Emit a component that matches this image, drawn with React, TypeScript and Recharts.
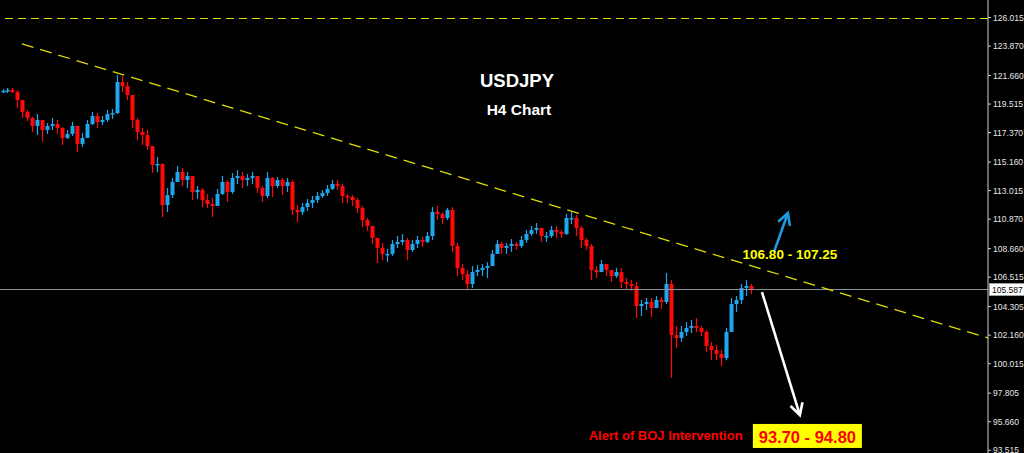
import React from "react";
import { ComposedChart, Bar, XAxis, YAxis, ReferenceLine, ReferenceDot } from "recharts";

// ---- data (USDJPY H4) ----
const firstOpen = 120.45;
const highs = [
  120.65, 120.72, 120.72, 120.57, 119.67, 119.07, 118.54, 118.77, 118.32, 118.09,
  118.47, 118.32, 117.79, 117.57, 118.17, 117.87, 117.34, 118.32, 118.92, 118.84,
  118.62, 119.07, 119.14, 121.70, 121.62, 121.17, 120.20, 118.47, 117.72, 117.57,
  116.36, 115.54, 115.09, 113.21, 113.96, 114.86, 114.71, 114.41, 114.11, 113.36,
  113.21, 112.76, 112.46, 113.14, 114.11, 113.81, 114.34, 114.56, 114.41, 114.26,
  114.41, 114.11, 113.36, 114.41, 114.04, 114.04, 113.96, 113.96, 113.81, 111.93,
  112.09, 112.39, 112.61, 112.91, 113.06, 113.44, 113.81, 113.81, 113.51, 112.76,
  112.69, 112.46, 111.86, 110.96, 110.36, 109.31, 109.08, 108.63, 109.31, 109.61,
  109.76, 109.46, 109.31, 109.61, 109.53, 109.91, 111.78, 111.86, 111.41, 111.71,
  111.78, 109.08, 107.50, 107.05, 107.35, 107.43, 107.50, 107.65, 108.56, 109.31,
  109.16, 109.08, 109.38, 109.16, 109.61, 110.06, 110.36, 110.58, 110.21, 109.91,
  110.36, 110.36, 110.06, 111.26, 111.41, 111.18, 110.36, 109.46, 109.01, 107.35,
  107.80, 107.50, 107.05, 107.20, 107.20, 106.45, 106.30, 106.15, 104.80, 104.95,
  104.95, 105.10, 105.03, 106.83, 106.30, 102.85, 102.85, 103.15, 103.30, 103.45,
  102.85, 102.55, 101.65, 101.42, 101.05, 102.70, 104.95, 105.10, 106.00, 106.30,
  106.00,
];
const lows = [
  120.35, 120.35, 120.35, 119.22, 118.47, 118.24, 117.42, 117.19, 116.67, 117.27,
  117.57, 117.27, 116.44, 116.89, 117.12, 115.91, 116.29, 116.97, 117.94, 117.72,
  117.94, 118.17, 118.39, 118.77, 120.42, 119.82, 117.72, 116.81, 116.44, 116.07,
  114.34, 114.41, 111.03, 111.41, 112.46, 113.66, 113.36, 113.21, 112.31, 112.39,
  111.78, 111.71, 111.03, 111.86, 112.69, 112.16, 112.76, 113.51, 113.21, 113.36,
  113.51, 112.84, 112.16, 112.46, 112.54, 113.21, 112.69, 112.91, 111.18, 110.66,
  111.18, 111.49, 111.71, 112.09, 112.46, 112.61, 113.06, 113.06, 112.09, 112.09,
  111.86, 111.33, 110.28, 109.98, 109.01, 107.58, 107.80, 107.65, 108.11, 108.71,
  108.93, 107.80, 108.41, 108.71, 108.78, 109.08, 109.31, 110.81, 110.51, 110.81,
  108.41, 106.60, 106.30, 105.55, 105.70, 106.60, 106.60, 106.45, 107.35, 108.26,
  108.26, 108.26, 108.41, 108.56, 108.71, 109.08, 109.61, 109.76, 109.16, 109.16,
  109.46, 109.46, 109.46, 109.68, 110.51, 109.61, 108.71, 108.56, 106.30, 106.45,
  106.90, 106.60, 106.15, 106.45, 105.70, 105.55, 105.48, 103.45, 103.60, 104.05,
  103.52, 104.20, 104.12, 104.50, 98.94, 101.20, 101.65, 102.10, 102.32, 102.40,
  102.10, 100.90, 100.29, 100.29, 99.84, 100.29, 102.55, 103.90, 104.50, 105.10,
  105.25,
];
const closes = [
  120.50, 120.57, 120.42, 119.82, 118.92, 118.47, 117.87, 118.32, 117.57, 117.87,
  118.02, 117.72, 116.97, 117.27, 117.87, 116.51, 116.97, 118.02, 118.62, 118.17,
  118.32, 118.77, 118.84, 121.17, 120.87, 120.20, 118.32, 117.42, 117.19, 116.36,
  114.94, 115.01, 111.93, 112.69, 113.66, 114.41, 113.81, 114.11, 112.91, 113.06,
  112.31, 112.01, 111.86, 112.76, 113.66, 112.91, 113.96, 114.11, 113.81, 113.96,
  114.11, 113.21, 112.61, 113.96, 113.36, 113.81, 113.36, 113.66, 111.56, 111.41,
  111.78, 112.09, 112.31, 112.61, 112.84, 113.14, 113.51, 113.36, 112.61, 112.54,
  112.31, 111.71, 110.81, 110.36, 109.46, 108.71, 108.26, 108.26, 109.01, 109.16,
  109.31, 108.56, 109.01, 109.31, 109.16, 109.61, 111.41, 111.26, 110.96, 111.56,
  108.86, 107.20, 106.75, 106.00, 106.90, 107.05, 107.20, 107.35, 108.26, 109.01,
  108.71, 108.86, 109.01, 108.86, 109.31, 109.76, 110.06, 110.21, 109.61, 109.61,
  110.06, 109.91, 109.76, 110.96, 110.96, 110.21, 109.31, 108.86, 107.05, 106.90,
  107.50, 107.05, 106.60, 106.90, 106.15, 106.00, 105.85, 104.35, 104.50, 104.65,
  104.20, 104.80, 104.65, 106.00, 102.17, 101.95, 102.40, 102.70, 102.85, 102.70,
  102.40, 101.35, 101.05, 100.75, 100.44, 102.40, 104.50, 104.80, 105.70, 105.85,
  105.59,
];
const priceTicks = [
  126.015, 123.87, 121.66, 119.515, 117.37, 115.16, 113.015, 110.87, 108.66,
  106.515, 104.305, 102.16, 100.015, 97.805, 95.66, 93.515,
];
const lastPrice = 105.587;
const topLevel = 126.015;
const titleText = "USDJPY";
const subtitleText = "H4 Chart";
const resistanceText = "106.80 - 107.25";
const alertText = "Alert of BOJ Intervention";
const targetText = "93.70 - 94.80";
const trendline = [{ x: 4.4, y: 124.03 }, { x: 198, y: 101.95 }];
const upArrow = [{ x: 155.1, y: 108.4 }, { x: 157.9, y: 111.33 }];
const downArrow = [{ x: 152.7, y: 105.4 }, { x: 160.3, y: 96.16 }];

const data = closes.map((c, i) => ({
  x: i + 0.5,
  open: i === 0 ? firstOpen : closes[i - 1],
  close: c,
  high: highs[i],
  low: lows[i],
  range: [lows[i], highs[i]],
}));

const BULL = "#1ea6ee";
const BEAR = "#ff0a0a";
const YELLOW = "#dede00";
const FONT = "'Liberation Sans', Arial, sans-serif";

const Candle = (props: any) => {
  const { x, y, width, height, payload } = props;
  if (!payload || height == null) return null;
  const { open, close, high, low } = payload;
  const cx = Math.round(x + width / 2) + 0.5;
  const ppu = height / Math.max(0.0001, high - low);
  const yOf = (v: number) => y + (high - v) * ppu;
  const up = close >= open;
  const color = up ? BULL : BEAR;
  const top = yOf(Math.max(open, close));
  const bot = yOf(Math.min(open, close));
  return (
    <g>
      <line x1={cx} x2={cx} y1={y} y2={y + height} stroke={color} strokeWidth={1.2} />
      <rect x={cx - 2} y={top} width={4} height={Math.max(1.5, bot - top)} fill={color} />
    </g>
  );
};

const makeArrow = (color: string) => (props: any) => {
  const { x1, y1, x2, y2 } = props;
  if ([x1, y1, x2, y2].some((v) => v == null || isNaN(v))) return null;
  const ang = Math.atan2(y2 - y1, x2 - x1);
  const L = 13;
  const s = 0.5;
  const ax1 = x2 - L * Math.cos(ang - s);
  const ay1 = y2 - L * Math.sin(ang - s);
  const ax2 = x2 - L * Math.cos(ang + s);
  const ay2 = y2 - L * Math.sin(ang + s);
  return (
    <g>
      <line x1={x1} y1={y1} x2={x2} y2={y2} stroke={color} strokeWidth={2.6} />
      <polyline
        points={`${ax1},${ay1} ${x2},${y2} ${ax2},${ay2}`}
        fill="none"
        stroke={color}
        strokeWidth={2.6}
      />
    </g>
  );
};

const textShape = (txt: string, size: number, color: string, anchor = "middle") => (p: any) => (
  <text
    x={p.cx}
    y={p.cy}
    textAnchor={anchor}
    dominantBaseline="central"
    fill={color}
    fontSize={size}
    fontWeight="bold"
    fontFamily={FONT}
  >
    {txt}
  </text>
);

const targetShape = (p: any) => (
  <g>
    <rect x={p.cx - 54.5} y={p.cy - 12} width={109} height={24} fill="#ffff00" />
    <text
      x={p.cx}
      y={p.cy + 1}
      textAnchor="middle"
      dominantBaseline="central"
      fill="#ff0000"
      fontSize={16.5}
      fontWeight="bold"
      fontFamily={FONT}
    >
      {targetText}
    </text>
  </g>
);

const priceTag = (p: any) => (
  <g>
    <rect x={p.cx + 1.5} y={p.cy - 6} width={36} height={12} fill="#ffffff" stroke="#9aa4ae" strokeWidth={1} />
    <text
      x={p.cx + 4}
      y={p.cy + 0.5}
      dominantBaseline="central"
      fill="#000000"
      fontSize={8.5}
      fontFamily={FONT}
    >
      {lastPrice.toFixed(3)}
    </text>
  </g>
);

const dashedTop = (props: any) => {
  const { x1, y1, x2, y2 } = props;
  if ([x1, y1, x2, y2].some((v) => v == null || isNaN(v))) return null;
  const yy = Math.round(y1) + 0.5;
  return <line x1={x1} y1={yy} x2={x2} y2={yy} stroke={YELLOW} strokeWidth={1} strokeDasharray="8 5" />;
};

export default function App() {
  return (
    <div
      style={{
        position: "absolute",
        left: 0,
        top: 0,
        width: 1024,
        height: 453,
        background: "#000",
        overflow: "hidden",
      }}
    >
      <ComposedChart
        width={1024}
        height={453}
        data={data}
        margin={{ top: 0, right: 0, bottom: 0, left: 0 }}
        style={{ background: "#000" }}
      >
        <XAxis type="number" dataKey="x" domain={[0, 198]} hide allowDataOverflow />
        <YAxis
          orientation="right"
          width={36}
          domain={[93.31, 127.33]}
          allowDataOverflow
          ticks={priceTicks}
          interval={0}
          tickSize={3}
          tickMargin={2}
          axisLine={{ stroke: "#cfcfcf" }}
          tickLine={{ stroke: "#cfcfcf" }}
          tick={{ fill: "#e6e6e6", fontSize: 8.5, fontFamily: FONT, textAnchor: "start" }}
          tickFormatter={(v: number) => v.toFixed(3)}
        />
        <ReferenceLine y={topLevel} shape={dashedTop} />
        <ReferenceLine y={lastPrice} stroke="#8a949e" strokeWidth={1} />
        <ReferenceLine segment={trendline} stroke={YELLOW} strokeDasharray="12 7" strokeWidth={1.3} />
        <Bar dataKey="range" shape={Candle} barSize={3} isAnimationActive={false} />
        <ReferenceLine segment={upArrow} shape={makeArrow("#1e9be0")} />
        <ReferenceLine segment={downArrow} shape={makeArrow("#ffffff")} />
        <ReferenceDot x={198} y={lastPrice} r={0} shape={priceTag} />
        <ReferenceDot x={103.6} y={121.32} r={0} shape={textShape(titleText, 18.5, "#ffffff")} />
        <ReferenceDot x={104.0} y={119.14} r={0} shape={textShape(subtitleText, 15.5, "#ffffff")} />
        <ReferenceDot x={158.3} y={108.18} r={0} shape={textShape(resistanceText, 13.5, "#ffff00")} />
        <ReferenceDot x={133.4} y={94.66} r={0} shape={textShape(alertText, 13, "#ff0000")} />
        <ReferenceDot x={161.8} y={94.59} r={0} shape={targetShape} />
      </ComposedChart>
    </div>
  );
}
